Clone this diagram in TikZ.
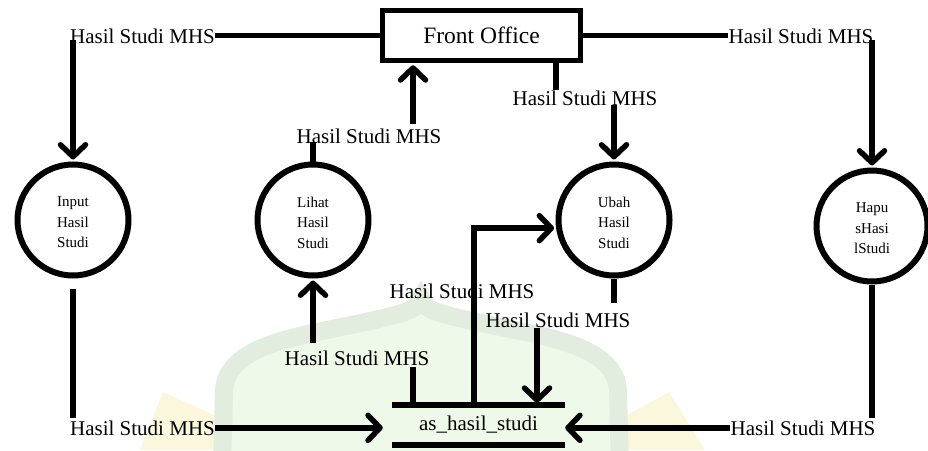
\documentclass[tikz,border=0pt]{standalone}
\usepackage{fontspec}
\setmainfont{Liberation Serif}
\usetikzlibrary{arrows.meta,calc}
\definecolor{wmband}{HTML}{E2EDE0}
\definecolor{wmfill}{HTML}{EEF9E9}
\definecolor{wmgold}{HTML}{FBF7DC}

\begin{document}
\begin{tikzpicture}[x=1pt,y=-1pt,
  flow/.style={line width=5.5pt},
  arr/.style={flow,shorten >=2pt,-{Straight Barb[length=12pt,width=25pt,round]}},
  proc/.style={circle,draw,line width=6pt,minimum size=111pt,inner sep=0pt},
  ptext/.style={font=\fontsize{15}{20.5}\selectfont,align=center,inner sep=0pt},
  lbl/.style={font=\fontsize{21}{24}\selectfont,inner sep=0pt,anchor=base},
  ext/.style={rectangle,draw,line width=5.5pt,minimum width=198pt,minimum height=50pt,
    inner sep=0pt,font=\fontsize{23.5}{26}\selectfont},
  store/.style={minimum width=173pt,minimum height=40pt,inner sep=0pt,
    font=\fontsize{21}{24}\selectfont}]

\useasboundingbox (0,0) rectangle (928,450);

% faint emblem in the background
\begin{scope}
  \clip (0,0) rectangle (928,450);
  \fill[wmgold] (140,450) -- (163,392) -- (225,420) -- (225,450) -- cycle;
  \fill[wmgold] (705,450) -- (669,392) -- (618,420) -- (618,450) -- cycle;
  \draw[wmband,fill=wmfill,line width=18pt]
    (222,470) -- (224,390) .. controls (228,335) and (330,335) .. (405,312)
    .. controls (415,308) .. (421,298) .. controls (427,308) .. (437,312)
    .. controls (512,335) and (614,335) .. (618,390) -- (620,470);
\end{scope}

% external entity and processes
\node[ext] (fo) at (481.5,35.5) {Front Office};
\node[proc,label={[ptext,yshift=-2.5pt]center:Input\\Hasil\\Studi}] (in) at (73,220) {};
\node[proc,label={[ptext,yshift=-2.5pt]center:Lihat\\Hasil\\Studi}] (lh) at (313,220) {};
\node[proc,label={[ptext,yshift=-2.5pt]center:Ubah\\Hasil\\Studi}] (ub) at (614,220) {};
\node[proc,label={[ptext,yshift=-2.5pt]center:Hapu\\sHasi\\lStudi}] (hp) at (872,226) {};

% data store
\node[store] (st) at (478.5,425) {as\_hasil\_studi};
\draw[flow] (st.north west) -- (st.north east);
\draw[flow] (st.south west) -- (st.south east);

% flow labels
\node[lbl] (l1) at (142.5,43) {Hasil Studi MHS};
\node[lbl] (l2) at (801,43) {Hasil Studi MHS};
\node[lbl] (l3) at (369,143) {Hasil Studi MHS};
\node[lbl] (l4) at (585,105) {Hasil Studi MHS};
\node[lbl] (l5) at (142.5,435) {Hasil Studi MHS};
\node[lbl] (l6) at (357,365) {Hasil Studi MHS};
\node[lbl] (l7) at (462,298) {Hasil Studi MHS};
\node[lbl] (l8) at (558,327) {Hasil Studi MHS};
\node[lbl] (l9) at (803,435) {Hasil Studi MHS};

% free ends of the flows
\coordinate (c3) at (413,124);
\coordinate (c4) at (556,90);
\coordinate (c6) at (413,367);
\coordinate (c7) at (474,300);
\coordinate (c8) at (537,328);

% Front Office -> Input
\draw[flow] (fo.west) -- (fo.west -| l1.east);
\draw[arr] ($(in.north |- l1.base)+(0,-3)$) -- (in.north);

% Front Office -> Hapus
\draw[flow] (fo.east) -- (fo.east -| l2.west);
\draw[arr] ($(hp.north |- l2.base)+(0,-3)$) -- (hp.north);

% Lihat -> Front Office
\draw[flow] (lh.north) -- ($(lh.north |- l3.base)+(0,-1)$);
\draw[arr] (c3) -- (c3 |- fo.south);

% Front Office -> Ubah
\draw[flow] (c4 |- fo.south) -- (c4);
\draw[arr] (ub.north |- l4.base) -- (ub.north);

% Input -> store
\draw[flow] ($(in.south)+(0,10)$) -- ($(in.south |- l5.base)+(0,-17)$);
\draw[arr,shorten >=9pt] (l5.east) -- (l5.east -| st.west);

% store -> Lihat
\draw[flow] (c6 |- st.north) -- (c6);
\draw[arr] ($(lh.south |- l6.base)+(0,-22)$) -- (lh.south);

% store -> Ubah
\draw[arr] (st.north -| c7) |- (ub.188);

% Ubah -> store
\draw[flow] (ub.south) -- ($(ub.south)+(0,24)$);
\draw[arr] (c8) -- (c8 |- st.north);

% Hapus -> store
\draw[flow] (hp.south) -- ($(hp.south |- l9.base)+(0,-17)$);
\draw[arr,shorten >=0pt] (l9.west) -- (l9.west -| st.east);

\end{tikzpicture}
\end{document}
